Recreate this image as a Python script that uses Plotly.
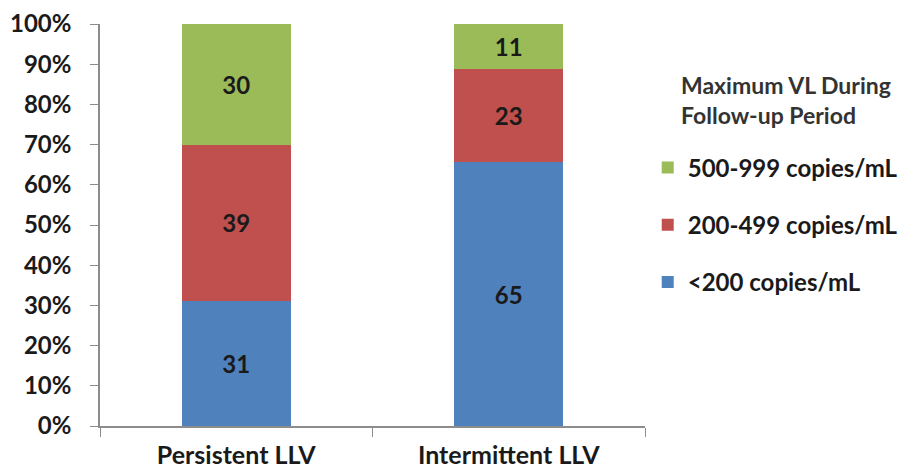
import plotly.graph_objects as go

categories = ["Persistent LLV", "Intermittent LLV"]
series_names = ["<200 copies/mL", "200-499 copies/mL", "500-999 copies/mL"]
below_200 = [31, 65]
from_200_499 = [39, 23]
from_500_999 = [30, 11]
y_ticks = [0, 10, 20, 30, 40, 50, 60, 70, 80, 90, 100]
y_tick_labels = ["0%", "10%", "20%", "30%", "40%", "50%", "60%", "70%", "80%", "90%", "100%"]
legend_heading = "Maximum VL During<br>Follow-up Period"

colors = ["#4F81BD", "#C0504D", "#9BBB59"]
FONT = "Lato"

fig = go.Figure()
series_values = [below_200, from_200_499, from_500_999]
for i, (name, vals) in enumerate(zip(series_names, series_values)):
    fig.add_trace(go.Bar(
        x=categories, y=vals, name=name, legendgroup=name,
        legendrank=len(series_names) - i,
        marker=dict(color=colors[i], line=dict(width=0)),
        text=vals, texttemplate="%{text}", textposition="inside",
        insidetextanchor="middle",
        textfont=dict(family=FONT, size=24, color="#1a1a1a", weight="bold"),
    ))

fig.update_layout(
    barmode="stack", barnorm="percent", bargap=0.6,
    width=917, height=473,
    margin=dict(l=100, r=272, t=24, b=47),
    paper_bgcolor="white", plot_bgcolor="white",
    font=dict(family=FONT, color="#222222"),
    legend=dict(
        x=1.005, xanchor="left", y=0.698, yanchor="top",
        traceorder="grouped", tracegroupgap=23,
        itemwidth=30,
        font=dict(family=FONT, size=24, color="#1a1a1a", weight="bold"),
    ),
    annotations=[dict(
        text=legend_heading, xref="paper", yref="paper",
        x=1.062, y=0.888, xanchor="left", yanchor="top", align="left",
        showarrow=False,
        font=dict(family=FONT, size=23, color="#333333", weight="bold"),
    )],
    yaxis=dict(
        range=[0, 100], tickvals=y_ticks, ticktext=y_tick_labels,
        showgrid=False, zeroline=False, automargin=False,
        showline=True, linecolor="#8c8c8c", linewidth=1.5,
        ticks="outside", ticklen=8, tickcolor="#8c8c8c",
        ticklabelstandoff=14,
        tickfont=dict(family=FONT, size=24, color="#1a1a1a", weight="bold"),
    ),
    xaxis=dict(
        showgrid=False, showline=True, linecolor="#8c8c8c", linewidth=1.5,
        ticks="outside", ticklen=9, tickcolor="#8c8c8c", tickson="boundaries",
        automargin=False,
        tickfont=dict(family=FONT, size=25, color="#1a1a1a", weight="bold"),
        ticklabelstandoff=6,
    ),
)

fig.write_html("out.html")
